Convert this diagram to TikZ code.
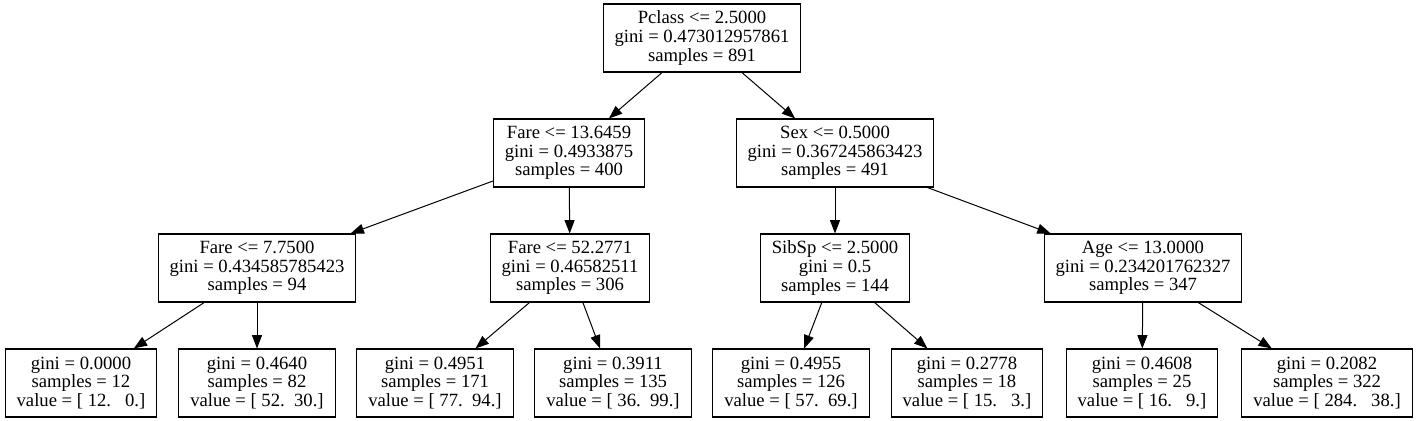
\documentclass[tikz,border=0pt]{standalone}
\usepackage{fontspec}
\setmainfont{Liberation Serif}
\usetikzlibrary{arrows.meta}

\begin{document}
\begin{tikzpicture}[
    x=0.75pt, y=-0.75pt,
    block/.style={rectangle, draw, line width=0.8pt, align=center, font=\fontsize{14}{14}\selectfont, inner xsep=8.6pt, inner ysep=0pt, minimum height=51pt},
    arrow/.style={-{Triangle[length=10pt, width=7.5pt]}, line width=0.75pt}
]

\fill[white] (0,0) rectangle (1417,421);

% splits
\node[block] (pclass) at (702,38) {Pclass <= 2.5000\\gini = 0.473012957861\\samples = 891};
\node[block] (fare1) at (569,153) {Fare <= 13.6459\\gini = 0.4933875\\samples = 400};
\node[block] (sex) at (835,153) {Sex <= 0.5000\\gini = 0.367245863423\\samples = 491};
\node[block] (fare2) at (257,268) {Fare <= 7.7500\\gini = 0.434585785423\\samples = 94};
\node[block] (fare3) at (570,268) {Fare <= 52.2771\\gini = 0.46582511\\samples = 306};
\node[block] (sibsp) at (835,268) {SibSp <= 2.5000\\gini = 0.5\\samples = 144};
\node[block] (age) at (1143,268) {Age <= 13.0000\\gini = 0.234201762327\\samples = 347};

% leaves
\node[block] (leaf1) at (81,383) {gini = 0.0000\\samples = 12\\value = [ 12.\ \ \ 0.]};
\node[block] (leaf2) at (257,383) {gini = 0.4640\\samples = 82\\value = [ 52.\ \ 30.]};
\node[block] (leaf3) at (435,383) {gini = 0.4951\\samples = 171\\value = [ 77.\ \ 94.]};
\node[block] (leaf4) at (613,383) {gini = 0.3911\\samples = 135\\value = [ 36.\ \ 99.]};
\node[block] (leaf5) at (791,383) {gini = 0.4955\\samples = 126\\value = [ 57.\ \ 69.]};
\node[block] (leaf6) at (967,383) {gini = 0.2778\\samples = 18\\value = [ 15.\ \ \ 3.]};
\node[block] (leaf7) at (1142,383) {gini = 0.4608\\samples = 25\\value = [ 16.\ \ \ 9.]};
\node[block] (leaf8) at (1327,383) {gini = 0.2082\\samples = 322\\value = [ 284.\ \ \ 38.]};

\draw[arrow] (pclass) -- (fare1);
\draw[arrow] (pclass) -- (sex);
\draw[arrow] (fare1) -- (fare2);
\draw[arrow] (fare1) -- (fare3);
\draw[arrow] (sex) -- (sibsp);
\draw[arrow] (sex) -- (age);
\draw[arrow] (fare2) -- (leaf1);
\draw[arrow] (fare2) -- (leaf2);
\draw[arrow] (fare3) -- (leaf3);
\draw[arrow] (fare3) -- (leaf4);
\draw[arrow] (sibsp) -- (leaf5);
\draw[arrow] (sibsp) -- (leaf6);
\draw[arrow] (age) -- (leaf7);
\draw[arrow] (age) -- (leaf8);

\end{tikzpicture}
\end{document}
